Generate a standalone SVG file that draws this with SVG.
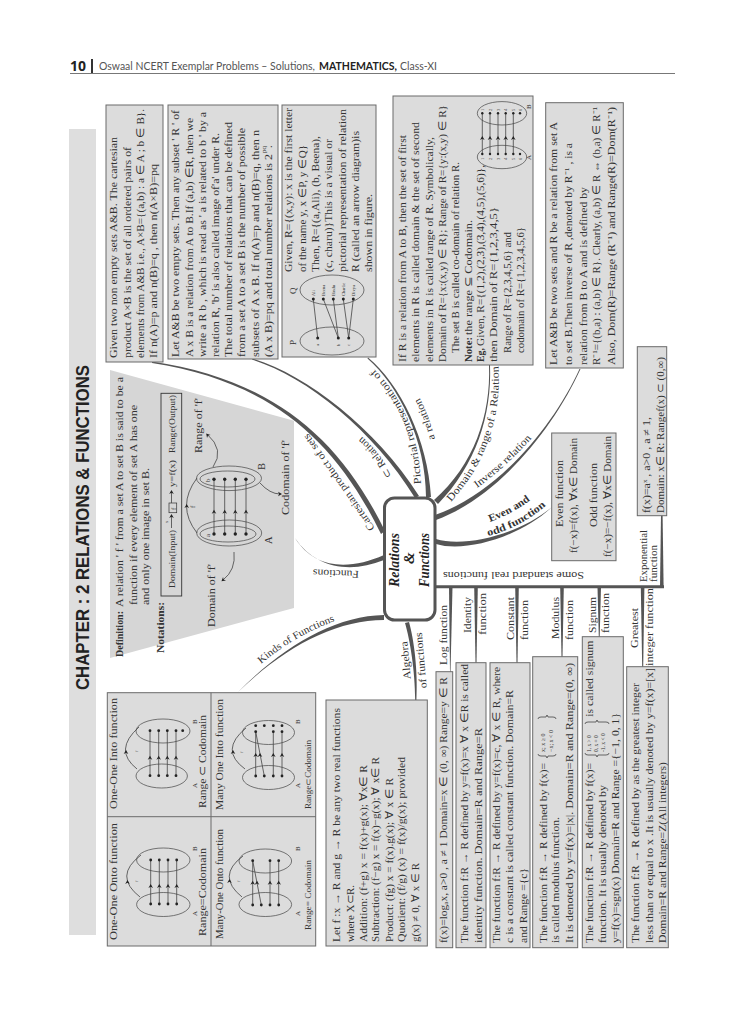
<svg xmlns="http://www.w3.org/2000/svg" width="744" height="1024" viewBox="0 0 744 1024">
<style>
text{font-family:"Liberation Serif",serif;font-size:10.5px;fill:#333}
.b{fill:#dcdcdc;stroke:#6a6a6a;stroke-width:1}
.l{fill:none;stroke:#444;stroke-width:.8}
.e{fill:none;stroke:#444;stroke-width:.7}
.d{fill:#222}
.c{fill:#555}
.s{font-size:4.5px}
.m{font-size:7px}
.bd{font-weight:bold}
.n{font-style:italic;font-weight:bold;font-size:15px;fill:#222}
.h{font-family:Lato,"Open Sans",sans-serif;fill:#555;font-size:11px}
</style>
<defs>
<path id="ah" d="M-2.3 2 L0 -2 L2.3 2 L0 .8 Z" fill="#222"/>
<path id="ar" d="M-2 -2.3 L2 0 L-2 2.3 L-.8 0 Z" fill="#222"/>
<path id="p1" d="M375 528 Q335 470 306 430"/>
<path id="p2" d="M392 476 Q380 452 361 436"/>
<path id="p3" d="M421 484 Q418 410 370 365"/>
<path id="p4" d="M435 439 Q428 413 419 397"/>
<path id="p5" d="M451 502 Q505 442 498 360"/>
<path id="p6" d="M477 488 Q505 468 532 438"/>
<path id="p7" d="M490 522 Q512 514 532 499"/>
<path id="p8" d="M488 536 Q520 528 547 505"/>
<path id="p9" d="M261 664 Q295 635 338 620"/>
</defs>

<g id="header">
<text transform="translate(70 71)" style="font-family:'Open Sans',sans-serif;font-weight:bold;font-size:15px;fill:#222" textLength="16" lengthAdjust="spacingAndGlyphs">10</text>
<rect x="91" y="59" width="2" height="15" fill="#333"/>
<text class="h" transform="translate(99 70)" textLength="216" lengthAdjust="spacingAndGlyphs">Oswaal NCERT Exemplar Problems – Solutions,</text>
<text class="h" transform="translate(319 70)" style="font-weight:bold;fill:#222" textLength="78" lengthAdjust="spacingAndGlyphs">MATHEMATICS,</text>
<text class="h" transform="translate(400 70)" textLength="37" lengthAdjust="spacingAndGlyphs">Class-XI</text>
<rect x="70" y="73" width="605" height="1" fill="#777"/>
</g>

<g id="chapter">
<rect x="69" y="129" width="27" height="806" fill="#dedede"/>
<text transform="translate(89 690) rotate(-90)" style="font-family:'Liberation Sans Narrow','Liberation Sans',sans-serif;font-weight:bold;font-size:18px;fill:#222" textLength="325" lengthAdjust="spacingAndGlyphs">CHAPTER : 2 RELATIONS &amp; FUNCTIONS</text>
</g>

<g id="connectors">
<path class="c" d="M152 361.5 C268 379 337 433 385 531 L381 534 C333 435 266 381 152 363 Z"/>
<path class="c" d="M252 358.5 C305 374 375 427 419 496 L415 498 C373 429 305 376 252 359.5 Z"/>
<path class="c" d="M368 357.5 C400 384 428 440 431 497 L426 497 C426 441 399 386 367.5 358.5 Z"/>
<path class="c" d="M490 365 C492 415 476 465 438 504 L434 500 C474 465 491 415 489 365 Z"/>
<path class="c" d="M580.5 369 C555 425 501 496 436 520 L435 515 C499 493 554 425 579.5 369 Z"/>
<path class="c" d="M436 539 C465 548 520 534 552 507 C520 537 465 553 436 544 Z"/>
<path class="c" d="M384 555 C350 570 315 570 295 538 C315 568 350 574 384 560 Z"/>
<path class="c" d="M384 615 C335 616 285 645 238 692 C285 647 335 620 384 620 Z"/>
<path class="c" d="M405 623 C410 640 415 670 415.2 700 L416.4 700 C418 670 414 640 409 622 Z"/>
<path class="c" d="M436 585.2 H664 V588.2 H436 Z"/>
<path class="c" d="M660 587 L661 515 H662.6 L663.6 587 Z"/>
<path class="c" d="M449 587 H452.5 L450.5 672 H450 Z"/>
<path class="c" d="M474.2 587 H477.8 L476.5 663 H475.5 Z"/>
<path class="c" d="M515.2 587 H518.8 L517.5 663 H516.5 Z"/>
<path class="c" d="M560.2 587 H563.8 L562.5 657 H561.5 Z"/>
<path class="c" d="M597.5 587 H601 L599.7 637 H598.8 Z"/>
<path class="c" d="M640.8 587 H644.4 L643.2 667 H642.2 Z"/>
</g>

<g id="connector-labels">
<text><textPath href="#p1" textLength="116" lengthAdjust="spacingAndGlyphs">Cartesian product of sets</textPath></text>
<text><textPath href="#p2" textLength="50" lengthAdjust="spacingAndGlyphs">⊂ Relation</textPath></text>
<text><textPath href="#p3" textLength="127" lengthAdjust="spacingAndGlyphs">Pictorial representation of</textPath></text>
<text><textPath href="#p4" textLength="44" lengthAdjust="spacingAndGlyphs">a relation</textPath></text>
<text><textPath href="#p5" textLength="148" lengthAdjust="spacingAndGlyphs">Domain &amp; range of a Relation</textPath></text>
<text><textPath href="#p6" textLength="74" lengthAdjust="spacingAndGlyphs">Inverse relation</textPath></text>
<text class="bd"><textPath href="#p7" textLength="46" lengthAdjust="spacingAndGlyphs">Even and</textPath></text>
<text class="bd"><textPath href="#p8" textLength="66" lengthAdjust="spacingAndGlyphs">odd function</textPath></text>
<text><textPath href="#p9" textLength="86" lengthAdjust="spacingAndGlyphs">Kinds of Functions</textPath></text>
<text transform="translate(359 571) rotate(182)" textLength="46" lengthAdjust="spacingAndGlyphs">Functions</text>
<text transform="translate(410.7 679) rotate(-95)" textLength="38" lengthAdjust="spacingAndGlyphs">Algebra</text>
<text transform="translate(426.7 688) rotate(-95)" textLength="56" lengthAdjust="spacingAndGlyphs">of functions</text>
<text transform="translate(584 572) rotate(180)" textLength="141" lengthAdjust="spacingAndGlyphs">Some standard real functions</text>
<text transform="translate(446.7 665) rotate(-90)" textLength="60" lengthAdjust="spacingAndGlyphs">Log function</text>
<text transform="translate(470.7 633) rotate(-90)" textLength="36" lengthAdjust="spacingAndGlyphs">Identity</text>
<text transform="translate(486 635) rotate(-90)" textLength="42" lengthAdjust="spacingAndGlyphs">function</text>
<text transform="translate(514 640) rotate(-90)" textLength="43" lengthAdjust="spacingAndGlyphs">Constant</text>
<text transform="translate(528 640) rotate(-90)" textLength="40" lengthAdjust="spacingAndGlyphs">function</text>
<text transform="translate(559 639) rotate(-90)" textLength="42" lengthAdjust="spacingAndGlyphs">Modulus</text>
<text transform="translate(573.3 640) rotate(-90)" textLength="40" lengthAdjust="spacingAndGlyphs">function</text>
<text transform="translate(596 633) rotate(-90)" textLength="36" lengthAdjust="spacingAndGlyphs">Signum</text>
<text transform="translate(609 633) rotate(-90)" textLength="40" lengthAdjust="spacingAndGlyphs">function</text>
<text transform="translate(638 648) rotate(-90)" textLength="40" lengthAdjust="spacingAndGlyphs">Greatest</text>
<text transform="translate(652.7 666) rotate(-90)" textLength="78" lengthAdjust="spacingAndGlyphs">integer function</text>
<text transform="translate(646.7 582) rotate(-90)" textLength="52" lengthAdjust="spacingAndGlyphs">Exponential</text>
<text transform="translate(656.7 582) rotate(-90)" textLength="37" lengthAdjust="spacingAndGlyphs">function</text>
</g>

<g id="central">
<rect x="384.5" y="498" width="50.5" height="122" rx="10" fill="#fff" stroke="#555" stroke-width="3"/>
<text class="n" transform="translate(399 587) rotate(-90)" textLength="54" lengthAdjust="spacingAndGlyphs">Relations</text>
<text class="n" transform="translate(414 564) rotate(-90)">&amp;</text>
<text class="n" transform="translate(429 587) rotate(-90)" textLength="54" lengthAdjust="spacingAndGlyphs">Functions</text>
</g>

<g id="cartesian-box">
<rect class="b" x="106" y="105" width="57" height="257"/>
<text transform="translate(117 358) rotate(-90)" textLength="221" lengthAdjust="spacingAndGlyphs">Given two non empty sets A&amp;B. The cartesian</text>
<text transform="translate(130.7 358) rotate(-90)" textLength="211" lengthAdjust="spacingAndGlyphs">product A×B is the set of all ordered pairs of</text>
<text transform="translate(143.7 358) rotate(-90)" textLength="249" lengthAdjust="spacingAndGlyphs">elements from A&amp;B i.e., A×B={(a,b) : a ∈ A ; b ∈ B}.</text>
<text transform="translate(156.7 358) rotate(-90)" textLength="194" lengthAdjust="spacingAndGlyphs">If n(A)=p and n(B)=q , then n(A×B)=pq</text>
</g>

<g id="relation-box">
<rect class="b" x="168" y="105" width="110" height="254"/>
<text transform="translate(179.3 357) rotate(-90)" textLength="247" lengthAdjust="spacingAndGlyphs">Let A&amp;B be two empty sets. Then any subset ' R ' of</text>
<text transform="translate(192.7 357) rotate(-90)" textLength="239" lengthAdjust="spacingAndGlyphs">A x B is a relation from A to B.If (a,b) ∈R, then we</text>
<text transform="translate(205.7 357) rotate(-90)" textLength="245" lengthAdjust="spacingAndGlyphs">write a R b , which is read as ' a is related to b ' by a</text>
<text transform="translate(218.7 357) rotate(-90)" textLength="224" lengthAdjust="spacingAndGlyphs">relation R, 'b' is also called image of'a' under R.</text>
<text transform="translate(232 357) rotate(-90)" textLength="235" lengthAdjust="spacingAndGlyphs">The total number of relations that can be defined</text>
<text transform="translate(245 357) rotate(-90)" textLength="229" lengthAdjust="spacingAndGlyphs">from a set A to a set B is the number of possible</text>
<text transform="translate(258.7 357) rotate(-90)" textLength="227" lengthAdjust="spacingAndGlyphs">subsets of A x B.  If n(A)=p and n(B)=q, then n</text>
<text transform="translate(271.7 357) rotate(-90)" textLength="203" lengthAdjust="spacingAndGlyphs">(A x B)=pq and total number relations is 2</text>
<text class="m" transform="translate(266 153) rotate(-90)">pq</text>
<text transform="translate(271.7 148) rotate(-90)">.</text>
</g>

<g id="pictorial-box">
<rect class="b" x="282" y="105" width="94" height="252"/>
<text transform="translate(292.3 272) rotate(-90)" textLength="164" lengthAdjust="spacingAndGlyphs">Given, R={(x,y): x is the first letter</text>
<text transform="translate(305.7 272) rotate(-90)" textLength="127" lengthAdjust="spacingAndGlyphs">of the name y, x ∈P, y ∈Q}</text>
<text transform="translate(319 272) rotate(-90)" textLength="136" lengthAdjust="spacingAndGlyphs">Then, R={(a,Ali), (b, Beena),</text>
<text transform="translate(332 272) rotate(-90)" textLength="133" lengthAdjust="spacingAndGlyphs">(c, charu)}This is a visual or</text>
<text transform="translate(345.7 272) rotate(-90)" textLength="163" lengthAdjust="spacingAndGlyphs">pictorial representation of relation</text>
<text transform="translate(359 272) rotate(-90)" textLength="141" lengthAdjust="spacingAndGlyphs">R (called an arrow diagram)is</text>
<text transform="translate(372 272) rotate(-90)" textLength="78" lengthAdjust="spacingAndGlyphs">shown in figure.</text>
<text style="font-size:9px" transform="translate(296 294) rotate(-90)">Q</text>
<text style="font-size:9px" transform="translate(296 345) rotate(-90)">P</text>
<ellipse class="e" cx="332" cy="290" rx="32" ry="15"/>
<ellipse class="e" cx="332" cy="341" rx="32" ry="14"/>
<path class="l" d="M313.3 299L317.7 338M323.3 299L338.3 338M333.3 299L338.3 338M343.3 299L348.7 338M353.3 299L348.7 338"/>
<g class="d"><circle cx="313.3" cy="299" r="1.5"/><circle cx="323.3" cy="299" r="1.5"/><circle cx="333.3" cy="299" r="1.5"/><circle cx="343.3" cy="299" r="1.5"/><circle cx="353.3" cy="299" r="1.5"/><circle cx="317.7" cy="338" r="1.5"/><circle cx="338.3" cy="338" r="1.5"/><circle cx="348.7" cy="338" r="1.5"/></g>
<text class="s" transform="translate(315 296) rotate(-90)">Ali</text>
<text class="s" transform="translate(325 296) rotate(-90)">Beena</text>
<text class="s" transform="translate(335 296) rotate(-90)">Bindu</text>
<text class="s" transform="translate(345 296) rotate(-90)">Charlie</text>
<text class="s" transform="translate(355 296) rotate(-90)">Divya</text>
<text class="s" transform="translate(319 346) rotate(-90)">a</text>
<text class="s" transform="translate(340 346) rotate(-90)">b</text>
<text class="s" transform="translate(350 346) rotate(-90)">c</text>
</g>

<g id="domain-box">
<rect class="b" x="393" y="96" width="140" height="269"/>
<text transform="translate(406 362) rotate(-90)" textLength="227" lengthAdjust="spacingAndGlyphs">If R is a relation from A to B, then the set of first</text>
<text transform="translate(419.3 362) rotate(-90)" textLength="240" lengthAdjust="spacingAndGlyphs">elements in R is called domain &amp; the set of second</text>
<text transform="translate(432.7 362) rotate(-90)" textLength="225" lengthAdjust="spacingAndGlyphs">elements in R is called range of R. Symbolically,</text>
<text transform="translate(446 362) rotate(-90)" textLength="257" lengthAdjust="spacingAndGlyphs">Domain of R={x:(x,y) ∈ R}; Range of R={y:(x,y) ∈ R}</text>
<text transform="translate(458.7 353) rotate(-90)" textLength="191" lengthAdjust="spacingAndGlyphs">The set B is called co-domain of relation R.</text>
<text class="bd" transform="translate(471.7 362) rotate(-90)" textLength="25" lengthAdjust="spacingAndGlyphs">Note:</text>
<text transform="translate(471.7 335) rotate(-90)" textLength="115" lengthAdjust="spacingAndGlyphs">the range ⊆ Codomain.</text>
<text class="bd" transform="translate(484.3 362) rotate(-90)" textLength="14" lengthAdjust="spacingAndGlyphs">Eg,</text>
<text transform="translate(484.3 346) rotate(-90)" textLength="181" lengthAdjust="spacingAndGlyphs">Given, R={(1,2),(2,3),(3,4),(4,5),(5,6)},</text>
<text transform="translate(497.3 362) rotate(-90)" textLength="155" lengthAdjust="spacingAndGlyphs">then Domain of  R={1,2,3,4,5}</text>
<text transform="translate(510.7 353) rotate(-90)" textLength="121" lengthAdjust="spacingAndGlyphs">Range of R={2,3,4,5,6}  and</text>
<text transform="translate(523.7 353) rotate(-90)" textLength="126" lengthAdjust="spacingAndGlyphs">codomain of R={1,2,3,4,5,6}</text>
<ellipse class="e" cx="502" cy="157" rx="24.7" ry="11.7"/>
<ellipse class="e" cx="502" cy="113.3" rx="24.7" ry="11.7"/>
<path class="l" d="M482.3 154V113.3M490 154V113.3M498 154V113.3M505.7 154V113.3M513.3 154V113.3"/>
<use href="#ah" x="482.3" y="138"/><use href="#ah" x="490" y="138"/><use href="#ah" x="498" y="138"/><use href="#ah" x="505.7" y="138"/><use href="#ah" x="513.3" y="138"/>
<g class="d"><circle cx="482.3" cy="154" r="1.2"/><circle cx="490" cy="154" r="1.2"/><circle cx="498" cy="154" r="1.2"/><circle cx="505.7" cy="154" r="1.2"/><circle cx="513.3" cy="154" r="1.2"/><circle cx="520" cy="154" r="1.2"/><circle cx="482.3" cy="113.3" r="1.2"/><circle cx="490" cy="113.3" r="1.2"/><circle cx="498" cy="113.3" r="1.2"/><circle cx="505.7" cy="113.3" r="1.2"/><circle cx="513.3" cy="113.3" r="1.2"/><circle cx="520" cy="113.3" r="1.2"/></g>
<text class="s" transform="translate(484 160) rotate(-90)">1</text><text class="s" transform="translate(491.7 160) rotate(-90)">2</text><text class="s" transform="translate(499.7 160) rotate(-90)">3</text><text class="s" transform="translate(507.4 160) rotate(-90)">4</text><text class="s" transform="translate(515 160) rotate(-90)">5</text><text class="s" transform="translate(521.7 160) rotate(-90)">6</text>
<text class="s" transform="translate(484 111) rotate(-90)">1</text><text class="s" transform="translate(491.7 111) rotate(-90)">2</text><text class="s" transform="translate(499.7 111) rotate(-90)">3</text><text class="s" transform="translate(507.4 111) rotate(-90)">4</text><text class="s" transform="translate(515 111) rotate(-90)">5</text><text class="s" transform="translate(521.7 111) rotate(-90)">6</text>
<text class="m" transform="translate(531 160) rotate(-90)">A</text>
<text class="m" transform="translate(531 109) rotate(-90)">B</text>
</g>

<g id="inverse-box">
<rect class="b" x="545.7" y="102.7" width="77.6" height="265.3"/>
<text transform="translate(557.3 365) rotate(-90)" textLength="243" lengthAdjust="spacingAndGlyphs">Let A&amp;B be two sets and R be a relation from set A</text>
<text transform="translate(571.7 365) rotate(-90)" textLength="222" lengthAdjust="spacingAndGlyphs">to set B.Then inverse of R ,denoted by R⁻¹ , is a</text>
<text transform="translate(586.7 365) rotate(-90)" textLength="178" lengthAdjust="spacingAndGlyphs">relation from B to A and is defined by</text>
<text transform="translate(600 365) rotate(-90)" textLength="258" lengthAdjust="spacingAndGlyphs">R⁻¹={(b,a) : (a,b) ∈ R}. Clearly, (a,b) ∈ R ⇔ (b,a) ∈ R⁻¹</text>
<text transform="translate(615 365) rotate(-90)" textLength="258" lengthAdjust="spacingAndGlyphs">Also, Dom(R)=Range (R⁻¹) and Range(R)=Dom(R⁻¹)</text>
</g>

<g id="exponential-box">
<rect class="b" x="637.3" y="346.7" width="29.4" height="169"/>
<text transform="translate(650 513) rotate(-90)" textLength="96" lengthAdjust="spacingAndGlyphs">f(x)=aˣ , a&gt;0 , a ≠ 1,</text>
<text transform="translate(664 513) rotate(-90)" textLength="156" lengthAdjust="spacingAndGlyphs">Domain: x∈ R: Rangef(x) ⊂ (0,∞)</text>
</g>

<g id="even-odd-box">
<rect class="b" x="551.7" y="433" width="64.3" height="127.7"/>
<text transform="translate(563 527) rotate(-90)" textLength="67" lengthAdjust="spacingAndGlyphs">Even function</text>
<text transform="translate(577 553) rotate(-90)" textLength="115" lengthAdjust="spacingAndGlyphs">f(−x)=f(x), ∀x∈ Domain</text>
<text transform="translate(597 527) rotate(-90)" textLength="64" lengthAdjust="spacingAndGlyphs">Odd function</text>
<text transform="translate(610.7 557) rotate(-90)" textLength="121" lengthAdjust="spacingAndGlyphs">f(−x)=−f(x), ∀x∈ Domain</text>
</g>

<g id="functions-box">
<path d="M110 370 L294 420.7 V608 L110 658 Z" fill="#d6d6d6"/>
<text class="bd" transform="translate(122.7 657) rotate(-90)" textLength="46" lengthAdjust="spacingAndGlyphs">Definition:</text>
<text transform="translate(122.7 607) rotate(-90)" textLength="230" lengthAdjust="spacingAndGlyphs">A relation ' f ' from a set A to set B is said to be a</text>
<text transform="translate(136.7 605) rotate(-90)" textLength="200" lengthAdjust="spacingAndGlyphs">function if every element of set A has one</text>
<text transform="translate(149.3 605) rotate(-90)" textLength="137" lengthAdjust="spacingAndGlyphs">and only one image in set B.</text>
<text class="bd" transform="translate(164 653) rotate(-90)" textLength="51" lengthAdjust="spacingAndGlyphs">Notations:</text>
<rect x="161" y="393.3" width="20.7" height="202.7" fill="none" stroke="#333" stroke-width=".9"/>
<text style="font-size:9px" transform="translate(175.3 588) rotate(-90)" textLength="58" lengthAdjust="spacingAndGlyphs">Domain(Input)</text>
<path class="l" d="M171.5 528V515"/><use href="#ah" x="171.5" y="516"/>
<text class="s" transform="translate(168 523) rotate(-90)">x</text>
<rect x="169" y="503" width="7.7" height="9.7" fill="none" stroke="#333" stroke-width=".7"/>
<text class="m" transform="translate(175.5 510) rotate(-90)">f</text>
<path class="l" d="M171.5 503V491"/><use href="#ah" x="171.5" y="492"/>
<text style="font-size:9px" transform="translate(175.3 487) rotate(-90)" textLength="27" lengthAdjust="spacingAndGlyphs">y=f(x)</text>
<text style="font-size:9px" transform="translate(175.3 453) rotate(-90)" textLength="58" lengthAdjust="spacingAndGlyphs">Range(Output)</text>
<ellipse class="e" cx="229.2" cy="533" rx="32.5" ry="13"/>
<ellipse class="e" cx="228" cy="534" rx="28" ry="8"/>
<ellipse class="e" cx="229" cy="478.3" rx="32.5" ry="12.3"/>
<ellipse class="e" cx="227.5" cy="479" rx="27.5" ry="8"/>
<path class="l" d="M214 534V479.3M224.7 534V479.3M235.3 534V479.3M246 534V479.3"/>
<use href="#ah" x="214" y="511.7"/><use href="#ah" x="224.7" y="511.7"/><use href="#ah" x="235.3" y="511.7"/><use href="#ah" x="246" y="511.7"/>
<g class="d"><circle cx="214" cy="534" r="1.7"/><circle cx="224.7" cy="534" r="1.7"/><circle cx="235.3" cy="534" r="1.7"/><circle cx="246" cy="534" r="1.7"/><circle cx="214" cy="479.3" r="1.7"/><circle cx="224.7" cy="479.3" r="1.7"/><circle cx="235.3" cy="479.3" r="1.7"/><circle cx="246" cy="479.3" r="1.7"/></g>
<text class="m" transform="translate(210 537) rotate(-90)">a</text>
<text class="m" transform="translate(210 482) rotate(-90)">b</text>
<text transform="translate(272 544) rotate(-90)">A</text>
<text transform="translate(265 470) rotate(-90)">B</text>
<path class="l" d="M197 533 Q176 506 197 478"/><use href="#ah" x="186.7" y="506"/>
<text class="m" transform="translate(195 508) rotate(-90)">f</text>
<text transform="translate(201.7 453) rotate(-90)" textLength="55" lengthAdjust="spacingAndGlyphs">Range of  'f'</text>
<path class="l" d="M213 467 Q225 450 207 434"/><use href="#ah" x="207.5" y="435" transform="rotate(-40 207.5 435)"/>
<text transform="translate(215 627) rotate(-90)" textLength="63" lengthAdjust="spacingAndGlyphs">Domain of  'f'</text>
<path class="l" d="M234 552 Q236 570 223 580"/><use href="#ar" transform="translate(223 580) rotate(140)"/>
<text transform="translate(289.3 515) rotate(-90)" textLength="75" lengthAdjust="spacingAndGlyphs">Codomain of  'f'</text>
<path class="l" d="M260 483 Q270 494 280 494"/><use href="#ar" transform="translate(280 494)"/>
</g>

<g id="kinds-table">
<rect class="b" x="107.3" y="692.7" width="208.4" height="253.3"/>
<path d="M211 692.7V946M107.3 816.7H315.7" fill="none" stroke="#6a6a6a"/>
<text transform="translate(116.7 940) rotate(-90)" textLength="117" lengthAdjust="spacingAndGlyphs">One-One Onto function</text>
<text transform="translate(205.7 936) rotate(-90)" textLength="88" lengthAdjust="spacingAndGlyphs">Range=Codomain</text>
<text class="m" transform="translate(197 916) rotate(-90)">A</text><text class="m" transform="translate(197 851) rotate(-90)">B</text>
<ellipse class="e" cx="163.3" cy="904.5" rx="26.7" ry="12"/><ellipse class="e" cx="163.3" cy="860" rx="26.7" ry="12"/>
<path class="l" d="M150.7 904V860M159.3 904V860M168 904V860M176.7 904V860M140 897Q113 876 141 855"/>
<use href="#ah" x="150.7" y="886"/><use href="#ah" x="159.3" y="886"/><use href="#ah" x="168" y="886"/><use href="#ah" x="176.7" y="886"/><use href="#ah" x="127.5" y="882"/>
<g class="d"><circle cx="150.7" cy="904" r="1.4"/><circle cx="159.3" cy="904" r="1.4"/><circle cx="168" cy="904" r="1.4"/><circle cx="176.7" cy="904" r="1.4"/><circle cx="150.7" cy="860" r="1.4"/><circle cx="159.3" cy="860" r="1.4"/><circle cx="168" cy="860" r="1.4"/><circle cx="176.7" cy="860" r="1.4"/></g>
<text class="s" transform="translate(138 882) rotate(-90)">f</text>

<text transform="translate(116.7 809) rotate(-90)" textLength="111" lengthAdjust="spacingAndGlyphs">One-One Into function</text>
<text transform="translate(205.7 808) rotate(-90)" textLength="93" lengthAdjust="spacingAndGlyphs">Range ⊂ Codomain</text>
<text class="m" transform="translate(197 788) rotate(-90)">A</text><text class="m" transform="translate(197 724) rotate(-90)">B</text>
<ellipse class="e" cx="161.7" cy="776" rx="25.7" ry="12"/><ellipse class="e" cx="163" cy="731" rx="27" ry="12"/>
<path class="l" d="M150 775.7V730.7M158.7 775.7V730.7M167.3 775.7V730.7M176 775.7V730.7M137 769Q113 750 139 727"/>
<use href="#ah" x="150" y="757.7"/><use href="#ah" x="158.7" y="757.7"/><use href="#ah" x="167.3" y="757.7"/><use href="#ah" x="176" y="757.7"/><use href="#ah" x="126" y="752"/>
<g class="d"><circle cx="150" cy="775.7" r="1.4"/><circle cx="158.7" cy="775.7" r="1.4"/><circle cx="167.3" cy="775.7" r="1.4"/><circle cx="176" cy="775.7" r="1.4"/><circle cx="150" cy="730.7" r="1.4"/><circle cx="158.7" cy="730.7" r="1.4"/><circle cx="167.3" cy="730.7" r="1.4"/><circle cx="176" cy="730.7" r="1.4"/><circle cx="182.7" cy="730.7" r="1.4"/></g>
<text class="s" transform="translate(138 752) rotate(-90)">f</text>

<text transform="translate(222.7 939) rotate(-90)" textLength="110" lengthAdjust="spacingAndGlyphs">Many-One Onto function</text>
<text style="font-size:8px" transform="translate(310.7 930) rotate(-90)" textLength="70" lengthAdjust="spacingAndGlyphs">Range= Codomain</text>
<text class="m" transform="translate(300 916) rotate(-90)">A</text><text class="m" transform="translate(300 851) rotate(-90)">B</text>
<ellipse class="e" cx="265.3" cy="904.5" rx="26.3" ry="12"/><ellipse class="e" cx="265.3" cy="861" rx="26.3" ry="12"/>
<path class="l" d="M252.7 905V860.7M261.3 905L252.7 860.7M270 905V860.7M278.7 905V860.7M242 897Q216 876 243 856"/>
<use href="#ah" x="252.7" y="882.7"/><use href="#ah" x="257" y="882.7"/><use href="#ah" x="270" y="882.7"/><use href="#ah" x="278.7" y="882.7"/><use href="#ah" x="229.5" y="881"/>
<g class="d"><circle cx="252.7" cy="905" r="1.4"/><circle cx="261.3" cy="905" r="1.4"/><circle cx="270" cy="905" r="1.4"/><circle cx="278.7" cy="905" r="1.4"/><circle cx="252.7" cy="860.7" r="1.4"/><circle cx="270" cy="860.7" r="1.4"/><circle cx="278.7" cy="860.7" r="1.4"/></g>
<text class="s" transform="translate(240 882) rotate(-90)">f</text>

<text transform="translate(222.7 810) rotate(-90)" textLength="111" lengthAdjust="spacingAndGlyphs">Many One Into function</text>
<text style="font-size:8px" transform="translate(310.7 809) rotate(-90)" textLength="69" lengthAdjust="spacingAndGlyphs">Range⊂Codomain</text>
<text class="m" transform="translate(300 788) rotate(-90)">A</text><text class="m" transform="translate(300 724) rotate(-90)">B</text>
<ellipse class="e" cx="268.5" cy="777.5" rx="26" ry="12"/><ellipse class="e" cx="268.5" cy="732.5" rx="26" ry="12"/>
<path class="l" d="M255.7 776V731.7M264.3 776L255.7 731.7M273.3 776V731.7M282 776V731.7M245 769Q219 750 246 728"/>
<use href="#ah" x="255.7" y="755"/><use href="#ah" x="260" y="755"/><use href="#ah" x="273.3" y="755"/><use href="#ah" x="282" y="755"/><use href="#ah" x="233" y="752"/>
<g class="d"><circle cx="255.7" cy="776" r="1.4"/><circle cx="264.3" cy="776" r="1.4"/><circle cx="273.3" cy="776" r="1.4"/><circle cx="282" cy="776" r="1.4"/><circle cx="255.7" cy="725.7" r="1.4"/><circle cx="264.3" cy="725.7" r="1.4"/><circle cx="273.3" cy="725.7" r="1.4"/><circle cx="282" cy="725.7" r="1.4"/><circle cx="255.7" cy="731.7" r="1.4"/><circle cx="273.3" cy="731.7" r="1.4"/><circle cx="282" cy="731.7" r="1.4"/></g>
<text class="s" transform="translate(243 753) rotate(-90)">f</text>
</g>

<g id="algebra-box">
<rect class="b" x="326" y="700" width="101.3" height="246"/>
<text transform="translate(340 942) rotate(-90)" textLength="234" lengthAdjust="spacingAndGlyphs">Let f :x → R and g → R be any two real functions</text>
<text transform="translate(354 942) rotate(-90)" textLength="57" lengthAdjust="spacingAndGlyphs">where X⊂R.</text>
<text transform="translate(366.7 942) rotate(-90)" textLength="177" lengthAdjust="spacingAndGlyphs">Addition: (f+g) x = f(x)+g(x); ∀x∈ R</text>
<text transform="translate(379 942) rotate(-90)" textLength="185" lengthAdjust="spacingAndGlyphs">Subtraction: (f−g) x = f(x)−g(x); ∀ x∈ R</text>
<text transform="translate(392.7 942) rotate(-90)" textLength="164" lengthAdjust="spacingAndGlyphs">Product: (fg) x = f(x).g(x); ∀ x ∈ R</text>
<text transform="translate(405 942) rotate(-90)" textLength="185" lengthAdjust="spacingAndGlyphs">Quotient: (f/g) (x) = f(x)/g(x); provided</text>
<text transform="translate(419 942) rotate(-90)" textLength="79" lengthAdjust="spacingAndGlyphs">g(x) ≠ 0,  ∀ x ∈ R</text>
</g>

<g id="log-box">
<rect class="b" x="436" y="671.7" width="16.7" height="276"/>
<text transform="translate(447.3 943) rotate(-90)" textLength="266" lengthAdjust="spacingAndGlyphs">f(x)=logₐx, a&gt;0 , a ≠ 1 Domain=x ∈ (0, ∞) Range=y ∈ R</text>
</g>

<g id="identity-box">
<rect class="b" x="456" y="662.7" width="30" height="285"/>
<text transform="translate(468.3 943) rotate(-90)" textLength="279" lengthAdjust="spacingAndGlyphs">The function f:R → R defined by y=f(x)=x ∀ x ∈R is called</text>
<text transform="translate(481.7 943) rotate(-90)" textLength="215" lengthAdjust="spacingAndGlyphs">identity function.  Domain=R and Range=R</text>
</g>

<g id="constant-box">
<rect class="b" x="490" y="662.7" width="40" height="285"/>
<text transform="translate(500 943) rotate(-90)" textLength="276" lengthAdjust="spacingAndGlyphs">The function f:R → R defined by y=f(x)=c, ∀ x ∈ R, where</text>
<text transform="translate(513.3 943) rotate(-90)" textLength="253" lengthAdjust="spacingAndGlyphs">c is a constant is called constant function. Domain=R</text>
<text transform="translate(526.7 943) rotate(-90)" textLength="75" lengthAdjust="spacingAndGlyphs">and Range ={c}</text>
</g>

<g id="modulus-box">
<rect class="b" x="532.7" y="656.7" width="45" height="291"/>
<text transform="translate(546.7 943) rotate(-90)" textLength="180" lengthAdjust="spacingAndGlyphs">The function f:R → R defined by f(x)=</text>
<path class="l" d="M538 754Q538 756 541 756H546L547 758L548 756H553Q556 756 556 754M538 719Q538 717 541 717H546L547 715L548 717H553Q556 717 556 719"/>
<text style="font-size:6px" transform="translate(545 752) rotate(-90)">x; x ≥ 0</text>
<text style="font-size:6px" transform="translate(553 752) rotate(-90)">−x; x &lt; 0</text>
<text transform="translate(559.3 943) rotate(-90)" textLength="126" lengthAdjust="spacingAndGlyphs">is called modulus function.</text>
<text transform="translate(572.7 943) rotate(-90)" textLength="280" lengthAdjust="spacingAndGlyphs">It is denoted by y=f(x)=|x|. Domain=R and Range=(0, ∞)</text>
</g>

<g id="signum-box">
<rect class="b" x="582.3" y="636.7" width="41" height="311"/>
<text transform="translate(592.7 943) rotate(-90)" textLength="180" lengthAdjust="spacingAndGlyphs">The function f:R → R defined by f(x)=</text>
<path class="l" d="M585 753Q585 755 588 755H596L597 757L598 755H606Q609 755 609 753M585 724Q585 722 588 722H596L597 720L598 722H606Q609 722 609 724"/>
<text style="font-size:5.5px" transform="translate(591 752) rotate(-90)">1, x &gt; 0</text>
<text style="font-size:5.5px" transform="translate(598 752) rotate(-90)">0, x = 0</text>
<text style="font-size:5.5px" transform="translate(605 752) rotate(-90)">-1, x &lt; 0</text>
<text transform="translate(592.7 716.7) rotate(-90)" textLength="76" lengthAdjust="spacingAndGlyphs">is called signum</text>
<text transform="translate(606 943) rotate(-90)" textLength="158" lengthAdjust="spacingAndGlyphs">function. It is usually  denoted by</text>
<text transform="translate(619.3 943) rotate(-90)" textLength="230" lengthAdjust="spacingAndGlyphs">y=f(x)=sgn(x) Domain=R and  Range ={−1, 0, 1}</text>
</g>

<g id="greatest-box">
<rect class="b" x="626.7" y="666.7" width="41.6" height="281"/>
<text transform="translate(639.3 943) rotate(-90)" textLength="260" lengthAdjust="spacingAndGlyphs">The function f:R → R defined by as the greatest integer</text>
<text transform="translate(652.7 943) rotate(-90)" textLength="275" lengthAdjust="spacingAndGlyphs">less than or equal to x .It is usually denoted by y=f(x)=[x]</text>
<text transform="translate(666 943) rotate(-90)" textLength="181" lengthAdjust="spacingAndGlyphs">Domain=R and Range=Z(All integers)</text>
</g>
</svg>
